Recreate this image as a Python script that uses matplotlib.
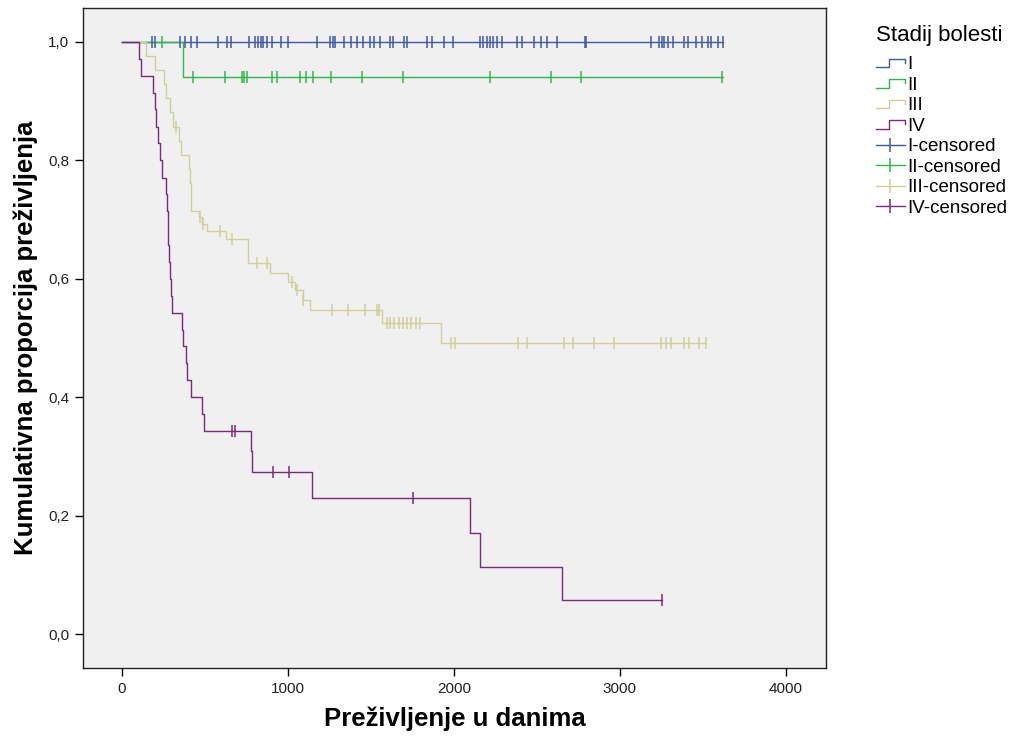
import numpy as np
import matplotlib.pyplot as plt
from matplotlib.lines import Line2D
from matplotlib.legend_handler import HandlerBase

plt.rcParams['font.family'] = ['Liberation Sans', 'DejaVu Sans']

# ── Data (Kaplan-Meier steps per stage) ───────────────────────────────────────
groups = ['I', 'II', 'III', 'IV']
colors = ['#3E58AC', '#2EB848', '#D3CE97', '#7C287D']

# stage I: no events, only censored cases
t_I = [0]
s_I = [1.0]
end_I = 3620
cens_I = [181, 199, 350, 380, 416, 452, 579, 633, 658, 766, 802, 821, 839, 851,
          875, 905, 959, 1001, 1176, 1255, 1273, 1285, 1339, 1382, 1418, 1454,
          1496, 1520, 1557, 1617, 1635, 1701, 1719, 1840, 1870, 1943, 1997,
          2160, 2178, 2202, 2220, 2238, 2262, 2293, 2383, 2413, 2480, 2522,
          2564, 2624, 2787, 2793, 3186, 3234, 3252, 3264, 3288, 3318, 3385,
          3409, 3457, 3493, 3529, 3548, 3590, 3620]

# stage II
t_II = [0, 368]
s_II = [1.0, 0.941]
end_II = 3620
cens_II = [241, 428, 621, 724, 736, 754, 905, 935, 1074, 1110, 1152, 1261,
           1448, 1695, 2220, 2588, 2763, 3612]

# stage III
t_III = [0, 150, 200, 255, 270, 290, 310, 345, 360, 405, 412, 416, 420, 465,
         485, 515, 630, 762, 893, 1004, 1044, 1092, 1134, 1567, 1921]
s_III = [1.0, 0.976, 0.952, 0.929, 0.905, 0.881, 0.857, 0.833, 0.809, 0.785,
         0.761, 0.738, 0.714, 0.704, 0.693, 0.680, 0.668, 0.626, 0.609, 0.595,
         0.581, 0.564, 0.547, 0.525, 0.491]
end_III = 3517
cens_III = [330, 471, 491, 591, 662, 813, 873, 1024, 1054, 1094, 1265, 1366,
            1466, 1537, 1550, 1597, 1617, 1640, 1668, 1697, 1718, 1745, 1770,
            1798, 1985, 2010, 2389, 2443, 2661, 2715, 2842, 2962, 3246, 3276,
            3306, 3385, 3415, 3475, 3517]

# stage IV
t_IV = [0, 103, 115, 189, 199, 209, 219, 229, 245, 270, 275, 279, 282, 287,
        290, 295, 306, 366, 372, 385, 395, 420, 487, 494, 782, 786, 1144,
        2100, 2160, 2649]
s_IV = [1.0, 0.971, 0.943, 0.914, 0.886, 0.857, 0.829, 0.800, 0.771, 0.743,
        0.714, 0.686, 0.657, 0.629, 0.600, 0.571, 0.543, 0.514, 0.486, 0.457,
        0.429, 0.400, 0.371, 0.343, 0.309, 0.274, 0.229, 0.171, 0.114, 0.057]
end_IV = 3255
cens_IV = [662, 682, 909, 1009, 1757, 3255]

series = [(t_I, s_I, end_I, cens_I), (t_II, s_II, end_II, cens_II),
          (t_III, s_III, end_III, cens_III), (t_IV, s_IV, end_IV, cens_IV)]

y_ticks = [0.0, 0.2, 0.4, 0.6, 0.8, 1.0]
x_ticks = [0, 1000, 2000, 3000, 4000]


class StepHandler(HandlerBase):
    """Legend icon shaped like a little survival step."""
    def create_artists(self, legend, orig_handle, xdescent, ydescent,
                       width, height, fontsize, trans):
        x0, w = -xdescent, width
        y0, h = -ydescent, height
        xs = [x0, x0 + 0.45 * w, x0 + 0.45 * w, x0 + w, x0 + w]
        ys = [y0 + 0.15 * h, y0 + 0.15 * h, y0 + 0.8 * h, y0 + 0.8 * h, y0 + 0.5 * h]
        ln = Line2D(xs, ys, color=orig_handle.get_color(), lw=1.0, transform=trans)
        return [ln]


fig = plt.figure(figsize=(10.3, 7.4), dpi=100)
ax = fig.add_axes([0.0806, 0.0973, 0.7214, 0.8919])
ax.set_facecolor('#F0F0F0')

for (t, s, end, cens), col in zip(series, colors):
    xs = list(t) + [end]
    ys = list(s) + [s[-1]]
    ax.step(xs, ys, where='post', color=col, lw=1.0, zorder=3)
    idx = np.searchsorted(t, cens, side='right') - 1
    cy = np.array(s)[idx]
    ax.plot(cens, cy, ls='none', marker='|', ms=8, mew=1.1, color=col, zorder=4)

ax.set_xlim(-232, 4241)
ax.set_ylim(-0.0574, 1.0574)
ax.set_xticks(x_ticks)
ax.set_xticklabels([str(v) for v in x_ticks])
ax.set_yticks(y_ticks)
ax.set_yticklabels([f'{v:.1f}'.replace('.', ',') for v in y_ticks])
ax.tick_params(direction='out', length=6, width=1, labelsize=11,
               labelcolor='#222222', pad=4)
for sp in ax.spines.values():
    sp.set_linewidth(1.0)
    sp.set_color('#222222')

ax.set_xlabel('Preživljenje u danima', fontsize=18.5, fontweight='bold', labelpad=8)
ax.set_ylabel('Kumulativna proporcija preživljenja', fontsize=18.5,
              fontweight='bold')
ax.yaxis.set_label_coords(-0.061, 0.5)

# legend: step icons for the curves, tick-on-line for censored marks
step_handles = [Line2D([], [], color=c) for c in colors]
cens_handles = [Line2D([], [], color=c, lw=1.0, marker='|', ms=10, mew=1.1)
                for c in colors]
labels = groups + [g + '-censored' for g in groups]
handler_map = {h: StepHandler() for h in step_handles}
leg = fig.legend(step_handles + cens_handles, labels, handler_map=handler_map,
                 loc='upper left', bbox_to_anchor=(0.843, 0.976),
                 frameon=False, fontsize=13.5, title='Stadij bolesti',
                 title_fontsize=16, handlelength=1.55, handletextpad=0.15,
                 labelspacing=0.18, numpoints=1, borderaxespad=0)
leg._legend_box.align = 'left'
leg._legend_box.sep = 7

fig.savefig('out.png', dpi=100, facecolor='white')
